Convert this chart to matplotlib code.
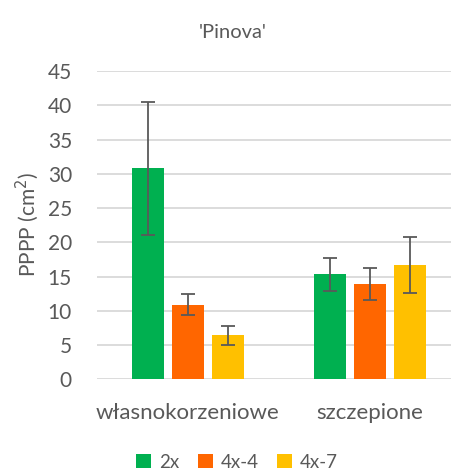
import matplotlib
matplotlib.use("Agg")
import matplotlib.pyplot as plt
import numpy as np
from matplotlib.patches import Patch

categories = ["własnokorzeniowe", "szczepione"]
series = ["2x", "4x-4", "4x-7"]
values = {
    "2x": [30.8, 15.3],
    "4x-4": [10.9, 13.9],
    "4x-7": [6.4, 16.7],
}
errors = {
    "2x": [9.7, 2.4],
    "4x-4": [1.55, 2.35],
    "4x-7": [1.45, 4.1],
}
colors = {"2x": "#00B050", "4x-4": "#FF6600", "4x-7": "#FFC000"}
yticks = [0, 5, 10, 15, 20, 25, 30, 35, 40, 45]

plt.rcParams['font.family'] = ['Lato', 'DejaVu Sans']
TXT = "#595959"

W, H = 451, 473
fig = plt.figure(figsize=(W / 100, H / 100), dpi=100)
ax = fig.add_axes([97 / W, 1 - 379.3 / H, 364 / W, 308.3 / H])

x = np.arange(len(categories))
bw = 32 / 182
off = 40 / 182
for i, s in enumerate(series):
    ax.bar(x + (i - 1) * off, values[s], width=bw, color=colors[s], zorder=3,
           yerr=errors[s], ecolor="#595959", capsize=5,
           error_kw=dict(elinewidth=1.3, capthick=1.3, zorder=4))

ax.set_xlim(-0.5, 1.5)
ax.set_ylim(0, 45)
ax.set_yticks(yticks)
ax.set_xticks(x)
ax.set_xticklabels(categories)
ax.yaxis.grid(True, color="#D9D9D9", linewidth=1.3, zorder=0)
ax.set_axisbelow(True)
for sp in ax.spines.values():
    sp.set_visible(False)
ax.tick_params(axis='both', length=0, colors=TXT)
ax.tick_params(axis='y', pad=18, labelsize=15)
ax.tick_params(axis='x', pad=17, labelsize=16)

fig.text(233 / W, 1 - 33 / H, "'Pinova'", ha='center', va='center',
         fontsize=14.5, color=TXT)
fig.text(27 / W, 1 - 225 / H, "PPPP (cm$^2$)", ha='center', va='center',
         rotation=90, fontsize=15, color=TXT)

handles = [Patch(facecolor=colors[s], edgecolor='none') for s in series]
leg = fig.legend(handles, series, loc='center', bbox_to_anchor=(237 / W, 1 - 462 / H),
                 ncol=3, frameon=False, fontsize=13.5, handlelength=0.8,
                 handleheight=0.8, handletextpad=0.4, columnspacing=1.0)
for t in leg.get_texts():
    t.set_color(TXT)

fig.savefig("out.png", dpi=100)
